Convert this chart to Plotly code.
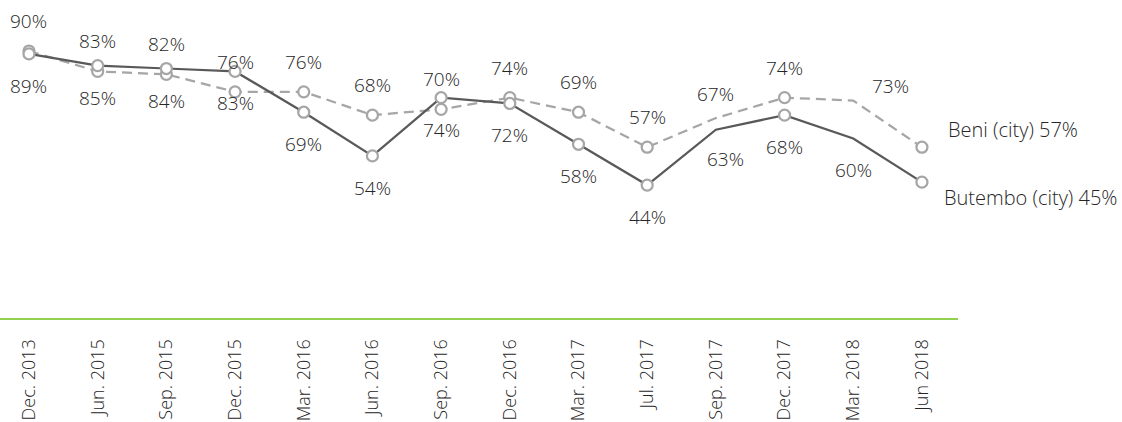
import plotly.graph_objects as go

periods = ["Dec. 2013", "Jun. 2015", "Sep. 2015", "Dec. 2015", "Mar. 2016", "Jun. 2016",
           "Sep. 2016", "Dec. 2016", "Mar. 2017", "Jul. 2017", "Sep. 2017", "Dec. 2017",
           "Mar. 2018", "Jun 2018"]
beni = [90, 83, 82, 76, 76, 68, 70, 74, 69, 57, 67, 74, 73, 57]
butembo = [89, 85, 84, 83, 69, 54, 74, 72, 58, 44, 63, 68, 60, 45]
# whether the point carries a marker circle
beni_marker = [1, 1, 1, 1, 1, 1, 1, 1, 1, 1, 0, 1, 0, 1]
butembo_marker = [1, 1, 1, 1, 1, 1, 1, 1, 1, 1, 0, 1, 0, 1]
beni_name = "Beni (city)"
butembo_name = "Butembo (city)"

# label styling offsets (pixels): (xshift, yshift)
beni_label_shift = {10: (0, 24), 12: (37, 15)}
butembo_label_shift = {10: (10, -29)}

TEXT = "#262626"
FONT = "Open Sans"
WEIGHT = 300

fig = go.Figure()
fig.add_trace(go.Scatter(
    x=periods, y=beni, mode="lines+markers", name=beni_name,
    line=dict(color="#a6a6a6", width=2.25, dash="10px,6px"),
    marker=dict(symbol="circle", size=11, color="white",
                opacity=[1 if m else 0 for m in beni_marker],
                line=dict(color="#a6a6a6", width=2.25)),
    cliponaxis=False, hoverinfo="skip"))
fig.add_trace(go.Scatter(
    x=periods, y=butembo, mode="lines+markers", name=butembo_name,
    line=dict(color="#595959", width=2.25),
    marker=dict(symbol="circle", size=11, color="white",
                opacity=[1 if m else 0 for m in butembo_marker],
                line=dict(color="#a6a6a6", width=2.25)),
    cliponaxis=False, hoverinfo="skip"))

label_font = dict(family=FONT, size=19, color=TEXT, weight=WEIGHT)
end_font = dict(family=FONT, size=20, color=TEXT, weight=WEIGHT)
tick_font = dict(family=FONT, size=18, color=TEXT, weight=WEIGHT)

annotations = []
n = len(periods)
for i in range(n - 1):
    xs, ys = beni_label_shift.get(i, (0, 30))
    annotations.append(dict(x=periods[i], y=beni[i], text=f"{beni[i]}%", showarrow=False,
                            xshift=xs, yshift=ys, xanchor="center", yanchor="middle", font=label_font))
    xs, ys = butembo_label_shift.get(i, (0, -32))
    annotations.append(dict(x=periods[i], y=butembo[i], text=f"{butembo[i]}%", showarrow=False,
                            xshift=xs, yshift=ys, xanchor="center", yanchor="middle", font=label_font))
annotations.append(dict(x=periods[-1], y=beni[-1], text=f"{beni_name} {beni[-1]}%", showarrow=False,
                        xshift=24, yshift=18, xanchor="left", yanchor="middle", font=end_font))
annotations.append(dict(x=periods[-1], y=butembo[-1], text=f"{butembo_name} {butembo[-1]}%", showarrow=False,
                        xshift=20, yshift=-15, xanchor="left", yanchor="middle", font=end_font))

fig.update_layout(
    width=1122, height=422,
    margin=dict(l=0, r=164, t=10, b=104, autoexpand=False),
    paper_bgcolor="white", plot_bgcolor="white",
    showlegend=False,
    annotations=annotations,
    xaxis=dict(type="category", range=[-0.422, 13.525], showgrid=False, zeroline=False,
               showline=True, linecolor="#92d050", linewidth=2, ticks="",
               tickangle=-90, ticklabelstandoff=12, automargin=False, tickfont=tick_font),
    yaxis=dict(range=[-1.6, 104.07], visible=False, showgrid=False, zeroline=False),
)

fig.write_html("out.html", config={"displayModeBar": False},
               post_script="document.body.style.margin='0';document.body.style.overflow='hidden';")
